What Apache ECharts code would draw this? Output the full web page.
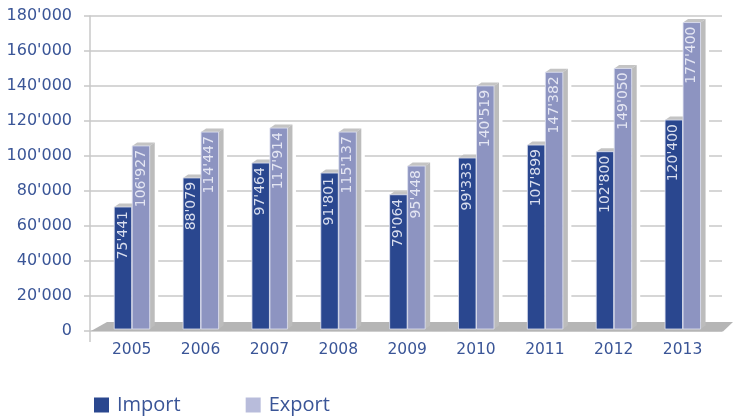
<!DOCTYPE html>
<html><head><meta charset="utf-8">
<style>html,body{margin:0;padding:0;background:#fff}#c{width:733px;height:416px}</style>
<script src="https://cdn.jsdelivr.net/npm/echarts@6/dist/echarts.min.js"></script>
</head><body><div id="c"></div>
<script>
var years = ['2005','2006','2007','2008','2009','2010','2011','2012','2013'];
var importValues = [72000,88600,97100,91400,79000,100000,107400,103600,121700];
var exportValues = [106900,114800,117100,114800,95400,141200,149000,151200,177400];
var importLabels = ["75'441","88'079","97'464","91'801","79'064","99'333","107'899","102'800","120'400"];
var exportLabels = ["106'927","114'447","117'914","115'137","95'448","140'519","147'382","149'050","177'400"];
var yTicks = {min:0,max:180000,interval:20000};

var BLUE='#2a478f', LAV='#8d94c1', GREY='#bcbcbc', TOPGREY='#c4c4c4', TXT='#3a5597';
var DIGI='"DejaVu Sans"';
var barW=17.5, dx=5, dy=3.5, projOffset=2;

function barItem(values,labels,fill,side,labelFill){
  return function(params,api){
    var i=api.value(0), v=api.value(1);
    var c=api.coord([i,v]), c0=api.coord([i,0]);
    var x = side<0 ? c[0]-barW : c[0]+0.5;
    var top=c[1]+projOffset, bot=c0[1]-projOffset;
    var kids=[];
    if(side>0){
      kids.push({type:'rect',shape:{x:x+barW,y:top-dy-2,width:dx+3.5,height:c0[1]-9-top+dy+2},style:{fill:'#fff'}});
    }
    kids.push({type:'polygon',shape:{points:[[x,top],[x+dx,top-dy],[x+barW+dx,top-dy],[x+barW,top]]},style:{fill:TOPGREY}});
    kids.push({type:'polygon',shape:{points:[[x+barW,top],[x+barW+dx,top-dy],[x+barW+dx,bot-dy],[x+barW,bot]]},style:{fill:GREY}});
    kids.push({type:'rect',shape:{x:x,y:top,width:barW,height:bot-top},style:{fill:fill,stroke:'#dfe2f0',lineWidth:0.8}});
    kids.push({type:'text',x:x+barW/2,y:top+4,rotation:Math.PI/2,
      style:{text:labels[params.dataIndex],fill:labelFill,font:'14px '+DIGI,align:'right',verticalAlign:'middle'}});
    return {type:'group',children:kids};
  };
}
function zip(vals){return vals.map(function(v,i){return [i,v];});}

var option={
  animation:false,
  backgroundColor:'#fff',
  legend:{
    left:89,top:390,itemWidth:15,itemHeight:15,itemGap:65,icon:'rect',
    textStyle:{fontFamily:'"Open Sans"',fontSize:20,color:TXT,padding:[0,0,0,3]},
    data:[{name:'Import',itemStyle:{color:'#2a478f'}},{name:'Export',itemStyle:{color:'#b8bcdb'}}]
  },
  grid:[
    {left:97.3,right:16,top:16,height:315},
    {left:90,right:11,top:16,height:315}
  ],
  xAxis:[
    {type:'category',gridIndex:0,data:years,axisLine:{show:false},axisTick:{show:false},
     axisLabel:{color:TXT,fontFamily:DIGI,fontSize:15.5,margin:11}},
    {type:'value',gridIndex:1,min:0,max:1,show:false}
  ],
  yAxis:[
    {type:'value',gridIndex:0,min:yTicks.min,max:yTicks.max,interval:yTicks.interval,show:false},
    {type:'value',gridIndex:1,min:yTicks.min,max:yTicks.max,interval:yTicks.interval,
     axisLine:{show:true,lineStyle:{color:'#c8c8c8',width:1.5}},
     axisTick:{show:true,length:6,lineStyle:{color:'#c8c8c8',width:1.5}},
     splitLine:{show:true,lineStyle:{color:'#c8c8c8',width:1.5}},
     axisLabel:{color:TXT,fontFamily:DIGI,fontSize:16,margin:18,padding:[4,0,0,0],
       formatter:function(v){return String(v).replace(/\B(?=(\d{3})+$)/g,"'");}}}
  ],
  series:[
    {type:'custom',name:'floor',xAxisIndex:1,yAxisIndex:1,z:2,silent:true,clip:false,data:[[0,0]],
     renderItem:function(p,api){
       var c=api.coord([0,0]), r=api.coord([1,0]);
       return {type:'group',children:[
         {type:'polygon',shape:{points:[[c[0]+1,c[1]],[c[0]+17,c[1]-9],[733,c[1]-9],[r[0]+1,c[1]+0.5]]},style:{fill:'#b5b5b5'}},
         {type:'line',shape:{x1:c[0],y1:c[1],x2:c[0],y2:c[1]+11},style:{stroke:'#c8c8c8',lineWidth:1.5}}
       ]};
     }},
    {type:'custom',name:'Import',xAxisIndex:0,yAxisIndex:0,z:3,clip:false,data:zip(importValues),
     itemStyle:{color:BLUE},encode:{x:0,y:1},
     renderItem:barItem(importValues,importLabels,BLUE,-1,'#d9deee')},
    {type:'custom',name:'Export',xAxisIndex:0,yAxisIndex:0,z:4,clip:false,data:zip(exportValues),
     itemStyle:{color:LAV},encode:{x:0,y:1},
     renderItem:barItem(exportValues,exportLabels,LAV,1,'#e4e6f3')}
  ]
};
echarts.init(document.getElementById('c'),null,{renderer:'canvas'}).setOption(option);
</script></body></html>
